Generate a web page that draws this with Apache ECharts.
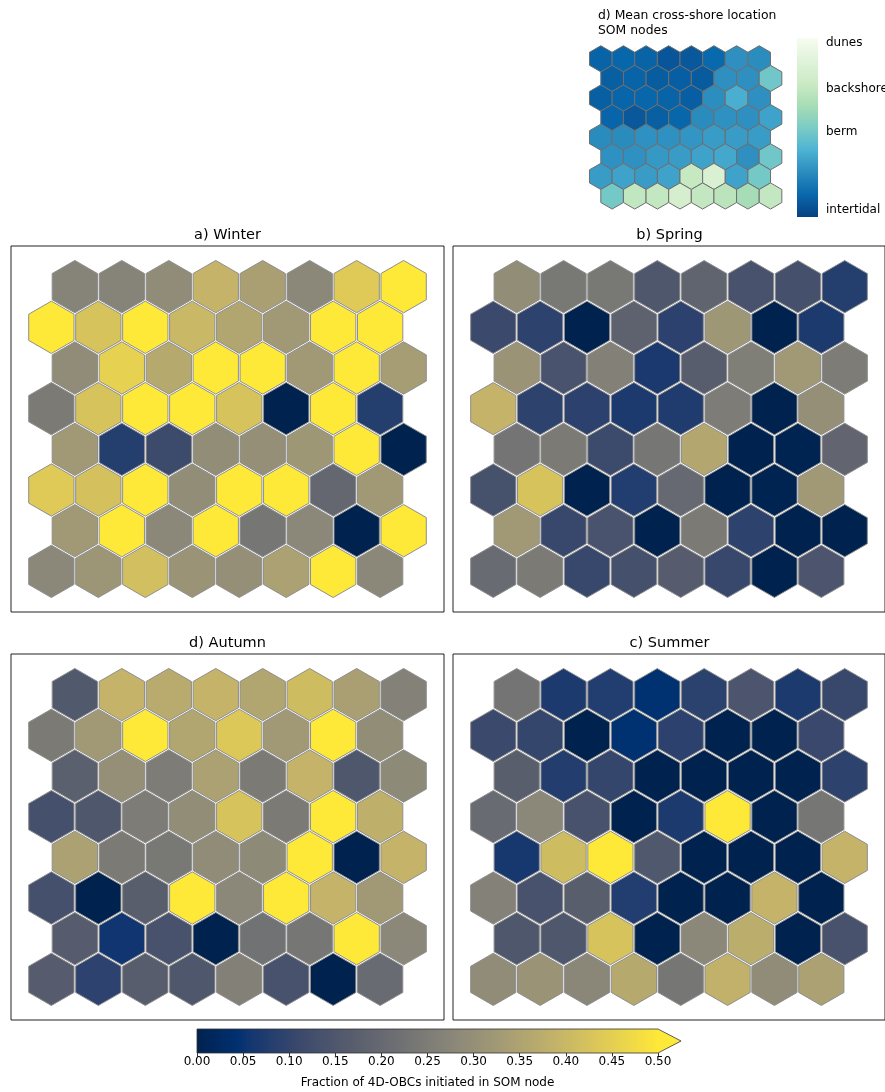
<!DOCTYPE html>
<html>
<head>
<meta charset="utf-8">
<script src="https://cdn.jsdelivr.net/npm/echarts@6/dist/echarts.min.js"></script>
<style>html,body{margin:0;padding:0;background:#fff;}#c{width:885px;height:1092px;}</style>
</head>
<body>
<div id="c"></div>
<script>
// ---------------- DATA (row-major, top row first, 8 x 8 SOM nodes) ----------------
const nRows = 8;
const nCols = 8;
const winter = [
0.27,0.27,0.29,0.39,0.34,0.28,0.44,0.50,
0.50,0.425,0.50,0.40,0.355,0.325,0.50,0.50,
0.29,0.455,0.365,0.50,0.50,0.325,0.50,0.335,
0.245,0.425,0.50,0.50,0.425,0.00,0.50,0.08,
0.325,0.08,0.113,0.295,0.30,0.32,0.50,0.00,
0.44,0.42,0.50,0.295,0.50,0.50,0.196,0.325,
0.325,0.50,0.28,0.50,0.235,0.28,0.00,0.50,
0.28,0.315,0.415,0.31,0.30,0.345,0.50,0.28];
const spring = [
0.295,0.24,0.24,0.15,0.185,0.136,0.131,0.08,
0.112,0.093,0.00,0.18,0.091,0.32,0.00,0.07,
0.31,0.14,0.26,0.068,0.168,0.255,0.325,0.25,
0.39,0.093,0.091,0.07,0.075,0.25,0.00,0.30,
0.23,0.245,0.113,0.235,0.36,0.00,0.005,0.19,
0.133,0.425,0.00,0.077,0.20,0.00,0.005,0.325,
0.325,0.107,0.141,0.00,0.245,0.093,0.00,0.00,
0.205,0.245,0.107,0.131,0.165,0.107,0.00,0.145];
const autumn = [
0.155,0.39,0.37,0.39,0.355,0.41,0.34,0.265,
0.245,0.325,0.50,0.355,0.435,0.325,0.50,0.295,
0.175,0.30,0.25,0.345,0.245,0.39,0.15,0.285,
0.131,0.15,0.25,0.295,0.425,0.245,0.50,0.38,
0.345,0.245,0.24,0.29,0.285,0.50,0.00,0.39,
0.131,0.00,0.17,0.50,0.28,0.50,0.39,0.325,
0.165,0.055,0.137,0.00,0.225,0.235,0.50,0.28,
0.165,0.092,0.168,0.15,0.26,0.137,0.00,0.205];
const summer = [
0.23,0.07,0.077,0.045,0.09,0.145,0.07,0.107,
0.112,0.103,0.00,0.045,0.091,0.00,0.00,0.108,
0.17,0.078,0.103,0.00,0.00,0.00,0.00,0.093,
0.205,0.28,0.136,0.00,0.07,0.50,0.00,0.235,
0.063,0.41,0.50,0.152,0.00,0.00,0.00,0.39,
0.265,0.136,0.17,0.077,0.00,0.00,0.39,0.00,
0.15,0.15,0.425,0.00,0.28,0.375,0.00,0.137,
0.29,0.31,0.278,0.365,0.235,0.385,0.29,0.345];
// mean cross-shore location of SOM nodes (0 = intertidal ... 1 = dunes)
const somLocation = [
0.11,0.12,0.11,0.07,0.075,0.13,0.26,0.25,
0.10,0.11,0.09,0.095,0.085,0.26,0.26,0.47,
0.10,0.115,0.12,0.11,0.095,0.255,0.36,0.26,
0.115,0.075,0.10,0.12,0.245,0.265,0.26,0.32,
0.245,0.245,0.265,0.265,0.28,0.30,0.30,0.30,
0.265,0.265,0.29,0.30,0.32,0.34,0.26,0.47,
0.30,0.32,0.30,0.32,0.73,0.83,0.32,0.48,
0.48,0.71,0.72,0.80,0.72,0.69,0.62,0.72];
const panelTitles = ['a) Winter', 'b) Spring', 'd) Autumn', 'c) Summer'];
const somTitle = 'd) Mean cross-shore location\nSOM nodes';
const somTickLabels = ['intertidal', 'berm', 'backshore', 'dunes'];
const somTickValues = [0.038, 0.476, 0.714, 0.975];
const fractionRange = [0, 0.5];
const fractionTickStep = 0.05;
const fractionLabel = 'Fraction of 4D-OBCs initiated in SOM node';

// ---------------- STYLE ----------------
const FONT = 'DejaVu Sans';
// cividis stops (position in 0..1 of the colour range, colour)
const cividisStops = [[0, '#00224e'], [0.04, '#00285f'], [0.09, '#003170'], [0.111, '#123570'],
  [0.222, '#3b496c'], [0.333, '#575d6d'], [0.444, '#707173'], [0.556, '#8a8779'],
  [0.667, '#a59c74'], [0.778, '#c3b369'], [0.889, '#e1cc55'], [1, '#fee838']];
const gnbuR = ['#084081','#0868ac','#2b8cbe','#4eb3d3','#7bccc4','#a8ddb5','#ccebc5','#e0f3db','#f7fcf0'];
function hexToRgb(h) { return [parseInt(h.substr(1, 2), 16), parseInt(h.substr(3, 2), 16), parseInt(h.substr(5, 2), 16)]; }
function sampleStops(stops, n) {
  const out = [];
  for (let i = 0; i < n; i++) {
    const t = i / (n - 1);
    let k = 0;
    while (k < stops.length - 2 && t > stops[k + 1][0]) k++;
    const a = stops[k], b = stops[k + 1];
    const f = (t - a[0]) / (b[0] - a[0]);
    const ca = hexToRgb(a[1]), cb = hexToRgb(b[1]);
    out.push('rgb(' + ca.map(function (v, j) { return Math.round(v + (cb[j] - v) * f); }).join(',') + ')');
  }
  return out;
}
const cividis = sampleStops(cividisStops, 101);
const ROW_H = Math.sqrt(3) / 2;

function hexData(values, shiftEvenRows) {
  return values.map(function (v, i) {
    const r = Math.floor(i / nCols), c = i % nCols;
    const shift = ((r % 2 === 0) === shiftEvenRows) ? 0.5 : 0;
    return [c + shift, r * ROW_H, v];
  });
}
function hexRender(scale, stroke, lw) {
  return function (params, api) {
    const p = api.coord([api.value(0), api.value(1)]);
    const unit = api.size([1, 0])[0];
    const R = unit / Math.sqrt(3) * scale;
    const pts = [];
    for (let k = 0; k < 6; k++) {
      const a = Math.PI / 180 * (60 * k - 90);
      pts.push([p[0] + R * Math.cos(a), p[1] + R * Math.sin(a)]);
    }
    return { type: 'polygon', shape: { points: pts },
      style: { fill: api.visual('color'), stroke: stroke, lineWidth: lw } };
  };
}
function gradStops(cols) {
  return cols.map(function (c, i) { return { offset: i / (cols.length - 1), color: c }; });
}

// panel geometry (equal aspect: 1 unit = hex spacing)
const panels = [
  { left: 11, top: 246 }, { left: 453, top: 246 },
  { left: 11, top: 654 }, { left: 453, top: 654 }];
const PW = 433, PH = 366, UNIT = 46.97;
const xHalf = PW / UNIT / 2, yHalf = PH / UNIT / 2;
const xC = 3.75, yC = 7 * ROW_H / 2;

const grids = [], xAxes = [], yAxes = [], series = [];
const seasonData = [winter, spring, autumn, summer];
panels.forEach(function (p, i) {
  grids.push({ left: p.left, top: p.top, width: PW, height: PH, show: true,
    borderColor: '#222', borderWidth: 1, backgroundColor: 'transparent' });
  xAxes.push({ gridIndex: i, type: 'value', min: xC - xHalf, max: xC + xHalf, show: false });
  yAxes.push({ gridIndex: i, type: 'value', min: yC - yHalf, max: yC + yHalf, inverse: true, show: false });
  series.push({ type: 'custom', xAxisIndex: i, yAxisIndex: i, data: hexData(seasonData[i], true),
    renderItem: hexRender(0.965, '#8f8f8f', 1), encode: { x: 0, y: 1 } });
});
// SOM panel
const SU = 22.63;
grids.push({ left: 580, top: 40, width: 220, height: 180, show: false });
xAxes.push({ gridIndex: 4, type: 'value', min: -0.919, max: -0.919 + 220 / SU, show: false });
yAxes.push({ gridIndex: 4, type: 'value', min: -0.831, max: -0.831 + 180 / SU, inverse: true, show: false });
series.push({ type: 'custom', xAxisIndex: 4, yAxisIndex: 4, data: hexData(somLocation, false),
  renderItem: hexRender(1.0, '#6e6e6e', 1), encode: { x: 0, y: 1 } });
// SOM colorbar
grids.push({ left: 797, top: 38, width: 21, height: 179, show: false });
xAxes.push({ gridIndex: 5, type: 'value', min: 0, max: 1, show: false });
yAxes.push({ gridIndex: 5, type: 'value', min: 0, max: 1, show: false });
series.push({ type: 'custom', xAxisIndex: 5, yAxisIndex: 5, data: [[0, 1]], clip: false,
  renderItem: function (params, api) {
    const p0 = api.coord([0, api.value(0)]);
    const p1 = api.coord([1, api.value(1)]);
    return { type: 'rect', shape: { x: p0[0], y: p1[1], width: p1[0] - p0[0], height: p0[1] - p1[1] },
      style: { fill: new echarts.graphic.LinearGradient(0, 1, 0, 0, gradStops(gnbuR)) } };
  } });
series.push({ type: 'custom', xAxisIndex: 5, yAxisIndex: 5, clip: false, silent: true,
  data: somTickValues.map(function (v, i) { return [1, v, i]; }),
  renderItem: function (params, api) {
    const p = api.coord([api.value(0), api.value(1)]);
    return { type: 'text', x: p[0] + 8, y: p[1],
      style: { text: somTickLabels[api.value(2)], fill: '#000', textAlign: 'left',
        textVerticalAlign: 'middle', font: '12px "' + FONT + '"' } };
  } });
// bottom colorbar
grids.push({ left: 197, top: 1029, width: 461, height: 24, show: false });
xAxes.push({ gridIndex: 6, type: 'value', min: fractionRange[0], max: fractionRange[1], interval: fractionTickStep,
  axisLine: { show: false }, splitLine: { show: false },
  axisTick: { show: true, length: 3.5, lineStyle: { color: '#000', width: 0.8 } },
  axisLabel: { margin: 3, color: '#000', fontFamily: FONT, fontSize: 12,
    formatter: function (v) { return v.toFixed(2); } },
  name: fractionLabel, nameLocation: 'middle', nameGap: 24,
  nameTextStyle: { color: '#000', fontFamily: FONT, fontSize: 12 } });
yAxes.push({ gridIndex: 6, type: 'value', min: 0, max: 1, show: false });
series.push({ type: 'custom', xAxisIndex: 6, yAxisIndex: 6, data: [fractionRange], clip: false,
  renderItem: function (params, api) {
    const p0 = api.coord([api.value(0), 0]);
    const p1 = api.coord([api.value(1), 1]);
    const w = p1[0] - p0[0], top = p1[1], bot = p0[1], tip = p1[0] + 0.05 * w;
    return { type: 'group', children: [
      { type: 'rect', shape: { x: p0[0], y: top, width: w, height: bot - top },
        style: { fill: new echarts.graphic.LinearGradient(0, 0, 1, 0, gradStops(cividis)) } },
      { type: 'polygon', shape: { points: [[p1[0] - 0.5, top], [tip, (top + bot) / 2], [p1[0] - 0.5, bot]] },
        style: { fill: cividis[cividis.length - 1] } },
      { type: 'polygon', shape: { points: [[p0[0], top], [p1[0], top], [tip, (top + bot) / 2], [p1[0], bot], [p0[0], bot]] },
        style: { fill: null, stroke: '#333', lineWidth: 0.8 } }
    ] };
  } });

const titleCenters = [[227.5, 235], [669.5, 235], [227.5, 643], [669.5, 643]];
const graphics = panelTitles.map(function (t, i) {
  return { type: 'text', x: titleCenters[i][0], y: titleCenters[i][1],
    style: { text: t, textAlign: 'center', textVerticalAlign: 'middle', fill: '#000',
      font: '14.5px "' + FONT + '"' } };
});
graphics.push({ type: 'text', x: 598, y: 8,
  style: { text: somTitle, textAlign: 'left', textVerticalAlign: 'top', fill: '#000',
    font: '12.4px "' + FONT + '"', lineHeight: 15 } });

const chart = echarts.init(document.getElementById('c'), null, { renderer: 'canvas' });
chart.setOption({
  animation: false,
  backgroundColor: '#fff',
  grid: grids, xAxis: xAxes, yAxis: yAxes,
  visualMap: [
    { type: 'continuous', show: false, min: 0, max: 0.5, dimension: 2, seriesIndex: [0, 1, 2, 3],
      inRange: { color: cividis }, outOfRange: { color: cividis[cividis.length - 1] } },
    { type: 'continuous', show: false, min: 0, max: 1, dimension: 2, seriesIndex: [4],
      inRange: { color: gnbuR } }
  ],
  graphic: graphics,
  series: series
});
</script>
</body>
</html>
